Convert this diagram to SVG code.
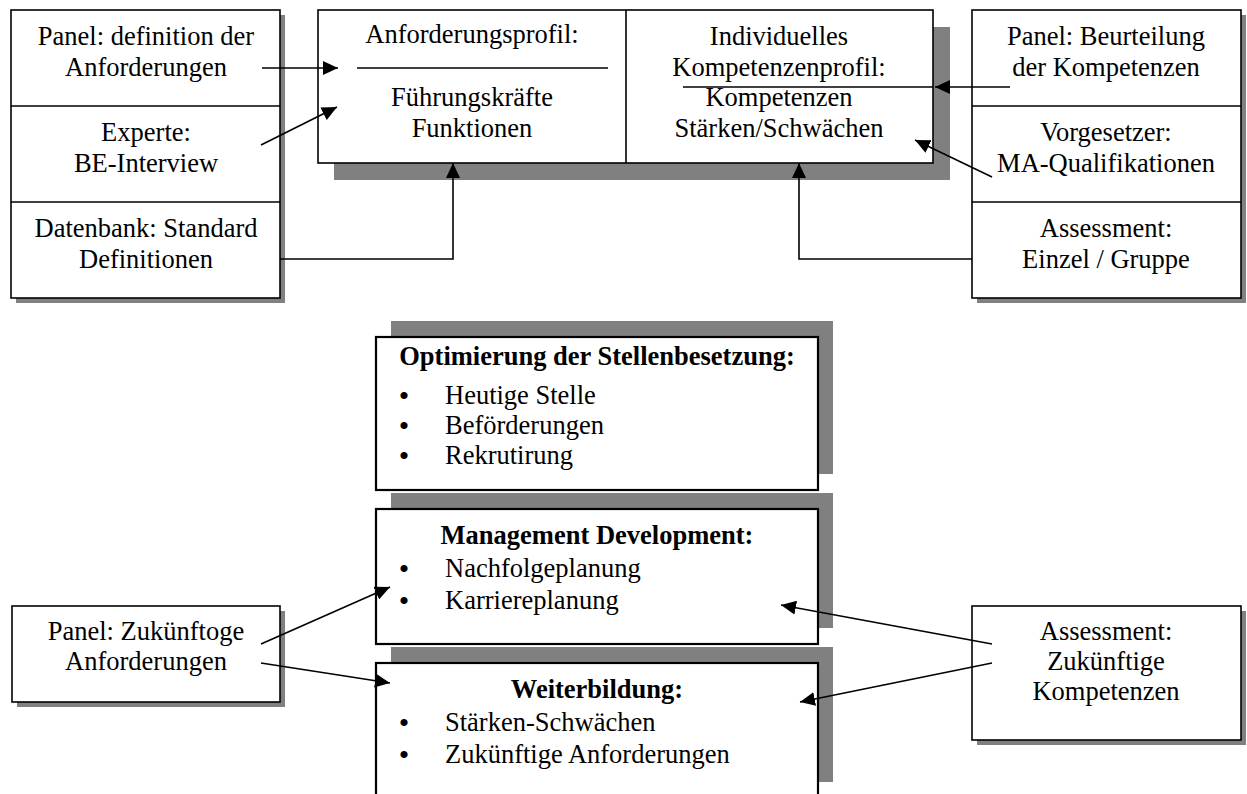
<svg xmlns="http://www.w3.org/2000/svg" width="1247" height="794" viewBox="0 0 1247 794">
<style>
text{font-family:"Liberation Serif","Times New Roman",serif;font-size:26.5px;fill:#000}
.c{text-anchor:middle}
.b{font-weight:bold}
.box{fill:#fff;stroke:#000;stroke-width:1.6}
.box2{fill:#fff;stroke:#000;stroke-width:2.2}
.sh{fill:#808080;stroke:none}
.ln{fill:none;stroke:#000;stroke-width:1.6}
.bu{font-size:30px;text-anchor:middle}
</style>
<defs>
<marker id="ah" markerUnits="userSpaceOnUse" markerWidth="16" markerHeight="14" refX="15" refY="7" orient="auto">
<path d="M0,0 L15,7 L0,14 z" fill="#000"/>
</marker>
</defs>
<rect width="1247" height="794" fill="#fff"/>

<g id="left-stack">
<rect class="sh" x="16" y="15" width="269" height="288"/>
<rect class="box" x="11" y="10" width="269" height="288"/>
<line class="ln" x1="11" y1="106" x2="280" y2="106"/>
<line class="ln" x1="11" y1="202" x2="280" y2="202"/>
<text class="c" x="146" y="45">Panel: definition der</text>
<text class="c" x="146" y="76">Anforderungen</text>
<text class="c" x="146" y="141">Experte:</text>
<text class="c" x="146" y="172">BE-Interview</text>
<text class="c" x="146" y="237">Datenbank: Standard</text>
<text class="c" x="146" y="268">Definitionen</text>
</g>

<g id="profile-box">
<rect class="sh" x="334" y="27" width="616" height="153"/>
<rect class="box" x="318" y="10" width="615" height="153"/>
<line class="ln" x1="626" y1="10" x2="626" y2="163"/>
<line class="ln" x1="357" y1="68" x2="608" y2="68"/>
<line class="ln" x1="683" y1="87" x2="933" y2="87"/>
<text class="c" x="472" y="43">Anforderungsprofil:</text>
<text class="c" x="472" y="106">Führungskräfte</text>
<text class="c" x="472" y="137">Funktionen</text>
<text class="c" x="779" y="45">Individuelles</text>
<text class="c" x="779" y="76">Kompetenzenprofil:</text>
<text class="c" x="779" y="106">Kompetenzen</text>
<text class="c" x="779" y="137">Stärken/Schwächen</text>
</g>

<g id="right-stack">
<rect class="sh" x="977" y="15" width="269" height="288"/>
<rect class="box" x="972" y="10" width="269" height="288"/>
<line class="ln" x1="972" y1="106" x2="1241" y2="106"/>
<line class="ln" x1="972" y1="202" x2="1241" y2="202"/>
<text class="c" x="1106" y="45">Panel: Beurteilung</text>
<text class="c" x="1106" y="76">der Kompetenzen</text>
<text class="c" x="1106" y="141">Vorgesetzer:</text>
<text class="c" x="1106" y="172">MA-Qualifikationen</text>
<text class="c" x="1106" y="237">Assessment:</text>
<text class="c" x="1106" y="268">Einzel / Gruppe</text>
</g>

<g id="shadows-bottom">
<rect class="sh" x="391" y="321" width="442" height="153"/>
<rect class="sh" x="391" y="493" width="442" height="135"/>
<rect class="sh" x="391" y="647" width="442" height="135"/>
</g>

<g id="optimierung">
<rect class="box2" x="376" y="337" width="442" height="153"/>
<text class="c b" x="597" y="365">Optimierung der Stellenbesetzung:</text>
<text class="bu" x="404" y="406">•</text>
<text x="445" y="404">Heutige Stelle</text>
<text class="bu" x="404" y="436">•</text>
<text x="445" y="434">Beförderungen</text>
<text class="bu" x="404" y="466">•</text>
<text x="445" y="464">Rekrutirung</text>
</g>

<g id="management">
<rect class="box2" x="376" y="509" width="442" height="135"/>
<text class="c b" x="597" y="544">Management Development:</text>
<text class="bu" x="404" y="579">•</text>
<text x="445" y="577">Nachfolgeplanung</text>
<text class="bu" x="404" y="611">•</text>
<text x="445" y="609">Karriereplanung</text>
</g>

<g id="weiterbildung">
<rect class="box2" x="376" y="663" width="442" height="135"/>
<text class="c b" x="597" y="698">Weiterbildung:</text>
<text class="bu" x="404" y="733">•</text>
<text x="445" y="731">Stärken-Schwächen</text>
<text class="bu" x="404" y="765">•</text>
<text x="445" y="763">Zukünftige Anforderungen</text>
</g>

<g id="panel-zukunft">
<rect class="sh" x="17" y="611" width="268" height="96"/>
<rect class="box" x="12" y="606" width="268" height="96"/>
<text class="c" x="146" y="640">Panel: Zukünftoge</text>
<text class="c" x="146" y="670">Anforderungen</text>
</g>

<g id="assessment-zukunft">
<rect class="sh" x="977" y="611" width="269" height="134"/>
<rect class="box" x="972" y="606" width="269" height="134"/>
<text class="c" x="1106" y="640">Assessment:</text>
<text class="c" x="1106" y="670">Zukünftige</text>
<text class="c" x="1106" y="700">Kompetenzen</text>
</g>

<g id="connectors" class="ln">
<path class="ln" d="M262,68 L338,68" marker-end="url(#ah)"/>
<path class="ln" d="M261,145 L337,107" marker-end="url(#ah)"/>
<path class="ln" d="M280,259 L453,259 L453,163" marker-end="url(#ah)"/>
<path class="ln" d="M1010,87 L935,87" marker-end="url(#ah)"/>
<path class="ln" d="M992,177 L915,140" marker-end="url(#ah)"/>
<path class="ln" d="M972,259 L799,259 L799,163" marker-end="url(#ah)"/>
<path class="ln" d="M261,644 L390,587" marker-end="url(#ah)"/>
<path class="ln" d="M261,663 L390,683" marker-end="url(#ah)"/>
<path class="ln" d="M992,644 L781,605" marker-end="url(#ah)"/>
<path class="ln" d="M992,663 L800,702" marker-end="url(#ah)"/>
</g>
</svg>
